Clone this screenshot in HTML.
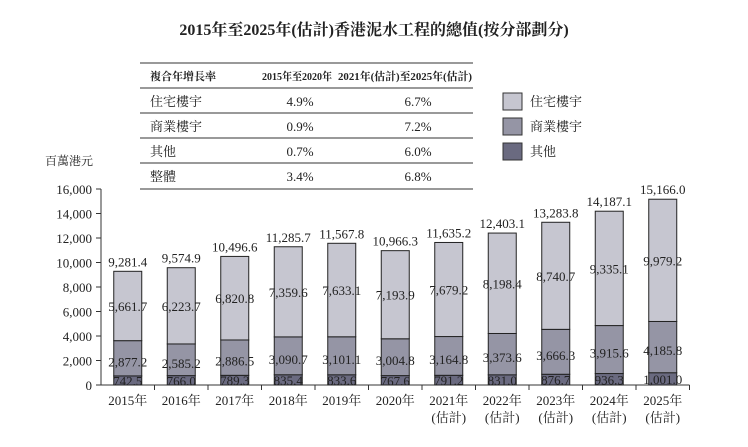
<!DOCTYPE html>
<html><head><meta charset="utf-8"><style>
body{margin:0;background:#fff;}
svg text{font-family:"Liberation Serif","Noto Serif CJK SC","Noto Sans CJK TC",serif;fill:#222;}
</style></head><body>
<svg id="c" width="748" height="442" xmlns="http://www.w3.org/2000/svg">
<text x="374" y="35" text-anchor="middle" font-size="16" font-weight="bold">2015年至2025年(估計)香港泥水工程的總值(按分部劃分)</text>
<g font-size="13">
<line x1="140" y1="63" x2="473" y2="63" stroke="#333"/>
<line x1="140" y1="88" x2="473" y2="88" stroke="#333"/>
<line x1="140" y1="113" x2="473" y2="113" stroke="#333"/>
<line x1="140" y1="138" x2="473" y2="138" stroke="#333"/>
<line x1="140" y1="163" x2="473" y2="163" stroke="#333"/>
<line x1="140" y1="189" x2="473" y2="189" stroke="#333"/>
<text x="150" y="80" font-size="11" font-weight="bold">複合年增長率</text>
<text x="262" y="80" font-size="11" font-weight="bold" textLength="70" lengthAdjust="spacingAndGlyphs">2015年至2020年</text>
<text x="338" y="80" font-size="11" font-weight="bold" textLength="134" lengthAdjust="spacingAndGlyphs">2021年(估計)至2025年(估計)</text>
<text x="150" y="106">住宅樓宇</text><text x="300" y="106" text-anchor="middle">4.9%</text><text x="418" y="106" text-anchor="middle">6.7%</text>
<text x="150" y="131">商業樓宇</text><text x="300" y="131" text-anchor="middle">0.9%</text><text x="418" y="131" text-anchor="middle">7.2%</text>
<text x="150" y="156">其他</text><text x="300" y="156" text-anchor="middle">0.7%</text><text x="418" y="156" text-anchor="middle">6.0%</text>
<text x="150" y="181">整體</text><text x="300" y="181" text-anchor="middle">3.4%</text><text x="418" y="181" text-anchor="middle">6.8%</text>
</g>
<g font-size="13">
<rect x="503" y="93" width="19" height="17" fill="#c6c6d0" stroke="#333"/><text x="530" y="106">住宅樓宇</text>
<rect x="503" y="118" width="19" height="17" fill="#9595a5" stroke="#333"/><text x="530" y="131">商業樓宇</text>
<rect x="503" y="143" width="19" height="17" fill="#6a6a80" stroke="#333"/><text x="530" y="156">其他</text>
</g>
<text x="45" y="165" font-size="12">百萬港元</text>
<g id="plot"></g>
</svg>
<script>
const categories=["2015年","2016年","2017年","2018年","2019年","2020年","2021年","2022年","2023年","2024年","2025年"];
const estimated=[false,false,false,false,false,false,true,true,true,true,true];
const others=[742.5,766.0,789.3,835.4,833.6,767.6,791.2,831.0,876.7,936.3,1001.0];
const commercial=[2877.2,2585.2,2886.5,3090.7,3101.1,3004.8,3164.8,3373.6,3666.3,3915.6,4185.8];
const residential=[5661.7,6223.7,6820.8,7359.6,7633.1,7193.9,7679.2,8198.4,8740.7,9335.1,9979.2];
const totals=[9281.4,9574.9,10496.6,11285.7,11567.8,10966.3,11635.2,12403.1,13283.8,14187.1,15166.0];
const yTicks=[0,2000,4000,6000,8000,10000,12000,14000,16000];
const NS="http://www.w3.org/2000/svg";
const g=document.getElementById('plot');
const x0=101,step=53.5,y0=385,yMax=16000,h=196,bw=28;
const y=v=>y0-v/yMax*h;
const xc=i=>x0+step*(i+0.5);
const fmt=v=>v.toLocaleString('en-US',{minimumFractionDigits:1,maximumFractionDigits:1});
function mk(t,a,txt){const e=document.createElementNS(NS,t);for(const k in a)e.setAttribute(k,a[k]);if(txt!==undefined)e.textContent=txt;g.appendChild(e);return e;}
let ax=mk('line',{x1:x0,y1:y(yMax),x2:x0,y2:y0,stroke:'#333'});


let bx=mk('line',{x1:x0,y1:y0,x2:x0+step*categories.length,y2:y0,stroke:'#333'});


yTicks.forEach(v=>{
 let t=mk('line',{x1:x0-5,y1:y(v),x2:x0,y2:y(v),stroke:'#333'});
 
 
 let l=mk('text',{x:x0-9,y:y(v)+5,'text-anchor':'end','font-size':13},v.toLocaleString('en-US'));
 
 
});
categories.forEach((c,i)=>{
 const cx=xc(i),L=cx-bw/2;
 let t=mk('line',{x1:x0+step*(i+1),y1:y0,x2:x0+step*(i+1),y2:y0+5,stroke:'#333'});
 
 
 const segs=[[0,others[i],'#6a6a80','bar-others'],[others[i],others[i]+commercial[i],'#9595a5','bar-commercial'],[others[i]+commercial[i],others[i]+commercial[i]+residential[i],'#c6c6d0','bar-residential']];
 segs.forEach(s=>{
  let r=mk('rect',{x:L,y:y(s[1]),width:bw,height:y(s[0])-y(s[1]),fill:s[2],stroke:'#222','stroke-width':1});
  
  
 });
 const labs=[[others[i],(y(0)+y(others[i]))/2+5,'label-others'],[commercial[i],(y(segs[1][0])+y(segs[1][1]))/2+8,'label-commercial'],[residential[i],(y(segs[2][0])+y(segs[2][1]))/2+5,'label-residential'],[totals[i],y(segs[2][1])-5,'label-total']];
 labs.forEach(lb=>{
  let e=mk('text',{x:cx,y:lb[1],'text-anchor':'middle','font-size':13},fmt(lb[0]));
  
  
 });
 let xl=mk('text',{x:cx,y:405,'text-anchor':'middle','font-size':13},c);
 
 
 if(estimated[i]){
  let el=mk('text',{x:cx,y:422,'text-anchor':'middle','font-size':13},'(估計)');
  
  
 }
});
</script>
</body></html>
